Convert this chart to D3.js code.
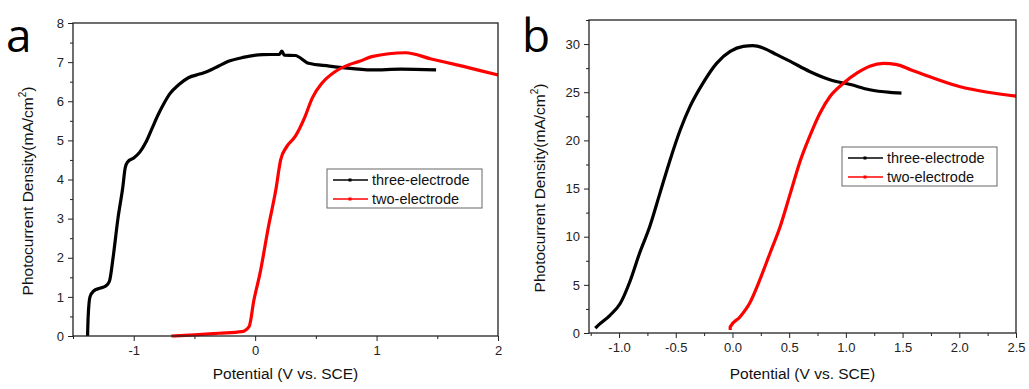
<!DOCTYPE html>
<html>
<head>
<meta charset="utf-8">
<script src="https://cdn.jsdelivr.net/npm/d3@7"></script>
<style>
  body { margin: 0; background: #fff; }
  svg { display: block; font-family: "Liberation Sans", Arial, sans-serif; }
  .tick text { fill: #222; font-size: 13px; }
</style>
</head>
<body>
<svg id="chart" width="1029" height="389"></svg>
<script>
// panel a - three electrode
var aThree = [[-1.38,0],[-1.375,0.5],[-1.36,1.0],[-1.33,1.15],[-1.28,1.22],[-1.23,1.28],[-1.2,1.4],[-1.17,2.0],
  [-1.13,3.0],[-1.09,3.8],[-1.07,4.3],[-1.05,4.45],[-1.0,4.55],[-0.95,4.7],[-0.9,4.95],[-0.85,5.3],[-0.8,5.65],
  [-0.75,5.95],[-0.7,6.2],[-0.63,6.42],[-0.55,6.6],[-0.45,6.7],[-0.38,6.78],[-0.3,6.9],[-0.22,7.02],[-0.1,7.12],
  [0.06,7.19],[0.2,7.2],[0.22,7.28],[0.24,7.18],[0.33,7.17],[0.44,6.97],[0.61,6.9],[0.72,6.86],[0.96,6.8],
  [1.2,6.82],[1.49,6.8]];
// panel a - two electrode
var aTwo = [[-0.69,0],[-0.5,0.03],[-0.3,0.07],[-0.11,0.11],[-0.05,0.24],[-0.01,0.92],[0.04,1.6],[0.11,2.8],
  [0.17,3.73],[0.21,4.5],[0.26,4.84],[0.33,5.1],[0.41,5.6],[0.47,6.08],[0.55,6.46],[0.66,6.76],[0.77,6.93],
  [0.86,7.02],[0.96,7.14],[1.24,7.24],[1.45,7.08],[1.66,6.93],[2.0,6.67]];
// panel b - three electrode
var bThree = [[-1.21,0.5],[-1.2,0.62],[-1.08,1.84],[-0.99,3.06],[-0.9,5.48],[-0.82,8.26],[-0.73,11.03],
  [-0.64,14.5],[-0.55,17.97],[-0.46,21.1],[-0.375,23.5],[-0.26,25.95],[-0.14,28.0],[-0.02,29.24],[0.095,29.76],
  [0.18,29.83],[0.27,29.6],[0.39,28.9],[0.51,28.2],[0.68,27.16],[0.86,26.3],[1.04,25.8],[1.21,25.26],
  [1.39,24.98],[1.49,24.9]];
// panel b - two electrode
var bTwo = [[-0.02,0.3],[-0.02,0.62],[0.066,1.67],[0.15,3.06],[0.24,5.48],[0.33,8.26],[0.42,11.03],[0.51,14.5],
  [0.6,17.97],[0.68,20.4],[0.77,22.8],[0.86,24.56],[0.98,25.95],[1.1,27.0],[1.21,27.7],[1.33,28.0],[1.45,27.86],
  [1.57,27.34],[1.65,27.0],[2.0,25.6],[2.25,25.0],[2.5,24.6]];

var seriesNames = ["three-electrode", "two-electrode"];
var seriesColors = ["#000000", "#ff0000"];

var aXTicks = [-1, 0, 1, 2], aXMinor = [-1.5, -0.5, 0.5, 1.5];
var aYTicks = [0, 1, 2, 3, 4, 5, 6, 7, 8], aYMinor = [0.5, 1.5, 2.5, 3.5, 4.5, 5.5, 6.5, 7.5];
var bXTicks = [-1.0, -0.5, 0.0, 0.5, 1.0, 1.5, 2.0, 2.5];
var bXMinor = [-1.25, -0.75, -0.25, 0.25, 0.75, 1.25, 1.75, 2.25];
var bYTicks = [0, 5, 10, 15, 20, 25, 30], bYMinor = [2.5, 7.5, 12.5, 17.5, 22.5, 27.5, 32.5];

var svg = d3.select("#chart");

function panel(opt) {
    var x = d3.scaleLinear().domain(opt.xd).range([opt.left, opt.right]);
    var y = d3.scaleLinear().domain(opt.yd).range([opt.bottom, opt.top]);
    var g = svg.append("g");

    // minor ticks
    g.append("g").attr("transform", "translate(0," + opt.bottom + ")")
        .call(d3.axisBottom(x).tickValues(opt.xMinor).tickSize(3).tickFormat(""))
        .call(s => s.select(".domain").remove());
    g.append("g").attr("transform", "translate(" + opt.left + ",0)")
        .call(d3.axisLeft(y).tickValues(opt.yMinor).tickSize(3).tickFormat(""))
        .call(s => s.select(".domain").remove());

    g.append("g").attr("transform", "translate(0," + opt.bottom + ")")
        .call(d3.axisBottom(x).tickValues(opt.xTicks).tickSize(5).tickPadding(5).tickFormat(opt.xFmt))
        .call(s => s.select(".domain").remove());
    g.append("g").attr("transform", "translate(" + opt.left + ",0)")
        .call(d3.axisLeft(y).tickValues(opt.yTicks).tickSize(5).tickPadding(4).tickFormat(d3.format("d")))
        .call(s => s.select(".domain").remove());
    g.selectAll(".tick line").attr("stroke", "#222");

    var line = d3.line().x(d => x(d[0])).y(d => y(d[1])).curve(d3.curveMonotoneX);
    [opt.s1, opt.s2].forEach(function (s, i) {
        g.append("path").datum(s)
            .attr("fill", "none")
            .attr("stroke", seriesColors[i])
            .attr("stroke-width", 3.2)
            .attr("stroke-linejoin", "round")
            .attr("d", line);
    });

    g.append("rect")
        .attr("x", opt.left).attr("y", opt.top)
        .attr("width", opt.right - opt.left).attr("height", opt.bottom - opt.top)
        .attr("fill", "none").attr("stroke", "#222").attr("stroke-width", 1.3);

    // legend
    var lg = g.append("g").attr("transform", "translate(" + opt.legX + "," + opt.legY + ")");
    lg.append("rect").attr("width", 155).attr("height", 39)
        .attr("fill", "#fff").attr("stroke", "#666").attr("stroke-width", 1);
    seriesNames.forEach(function (n, i) {
        var yy = 11 + i * 19;
        lg.append("line").attr("x1", 6).attr("x2", 41).attr("y1", yy).attr("y2", yy)
            .attr("stroke", seriesColors[i]).attr("stroke-width", 1.5);
        lg.append("rect").attr("x", 21.5).attr("y", yy - 1.5).attr("width", 3).attr("height", 3)
            .attr("fill", seriesColors[i]);
        lg.append("text").attr("x", 45).attr("y", yy + 5).attr("font-size", 14.5)
            .attr("fill", "#111").text(n);
    });

    // axis labels
    g.append("text")
        .attr("x", (opt.left + opt.right) / 2).attr("y", 379)
        .attr("text-anchor", "middle").attr("font-size", 15.5).attr("fill", "#111")
        .text("Potential (V vs. SCE)");
    var yl = g.append("text")
        .attr("transform", "translate(" + opt.yLabX + "," + opt.yLabY + ") rotate(-90)")
        .attr("text-anchor", "middle").attr("font-size", 15.5).attr("fill", "#111");
    yl.append("tspan").text("Photocurrent Density(mA/cm");
    yl.append("tspan").attr("font-size", 10).attr("dy", -7).text("2");
    yl.append("tspan").attr("dy", 7).text(")");

    svg.append("text").attr("x", opt.letX).attr("y", 52)
        .attr("font-family", "'Open Sans', sans-serif").attr("font-size", 46).attr("fill", "#000")
        .text(opt.letter);
}

panel({ xd: [-1.5, 2], yd: [0, 8], left: 73, right: 498, top: 23, bottom: 336,
    xTicks: aXTicks, xMinor: aXMinor, yTicks: aYTicks, yMinor: aYMinor,
    xFmt: d => d3.format("d")(d).replace("\u2212", "-"),
    s1: aThree, s2: aTwo, legX: 327, legY: 169, yLabX: 33, yLabY: 191, letX: 6, letter: "a" });

panel({ xd: [-1.265, 2.5], yd: [0, 32.5], left: 589, right: 1016, top: 20, bottom: 333,
    xTicks: bXTicks, xMinor: bXMinor, yTicks: bYTicks, yMinor: bYMinor,
    xFmt: d => d3.format(".1f")(d).replace("\u2212", "-"),
    s1: bThree, s2: bTwo, legX: 842, legY: 147, yLabX: 545, yLabY: 188, letX: 522, letter: "b" });
</script>
</body>
</html>
